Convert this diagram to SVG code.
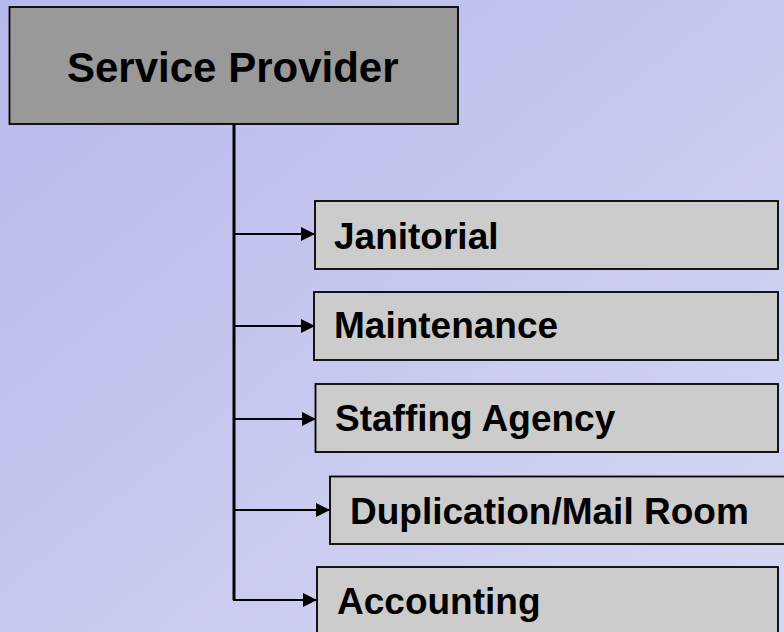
<svg xmlns="http://www.w3.org/2000/svg" width="784" height="632" viewBox="0 0 784 632">
  <defs>
    <linearGradient id="bg" x1="0" y1="0" x2="1" y2="1">
      <stop offset="0" stop-color="#b7b8ec"/>
      <stop offset="1" stop-color="#d6d8f2"/>
    </linearGradient>
    <marker id="arrow" viewBox="0 0 14 14" refX="14" refY="7" markerWidth="14" markerHeight="14" markerUnits="userSpaceOnUse" orient="auto">
      <path d="M0,0 L14,7 L0,14 Z" fill="#000"/>
    </marker>
    <style>
      .box { fill: #cccccc; stroke: #000; stroke-width: 1.8; }
      .root { fill: #999999; stroke: #000; stroke-width: 1.8; }
      .label { font-family: "Liberation Sans", Arial, sans-serif; font-weight: bold; fill: #000; }
      .child { font-size: 37px; }
      .trunk { fill: none; stroke: #000; stroke-width: 3; }
      .branch { fill: none; stroke: #000; stroke-width: 2.2; marker-end: url(#arrow); }
    </style>
  </defs>

  <rect width="784" height="632" fill="url(#bg)"/>

  <!-- connectors: vertical trunk plus one arrow per department -->
  <g id="connectors">
    <path class="trunk" d="M234,124 V600"/>
    <path class="branch" d="M233,234 H315"/>
    <path class="branch" d="M233,326 H315"/>
    <path class="branch" d="M233,419 H316"/>
    <path class="branch" d="M233,510 H330"/>
    <path class="branch" d="M233,600 H317"/>
  </g>

  <g id="service-provider">
    <rect class="root" x="9.5" y="7" width="448.5" height="117"/>
    <text class="label" x="67" y="82" font-size="42">Service Provider</text>
  </g>

  <g id="janitorial">
    <rect class="box" x="315" y="201" width="463" height="68"/>
    <text class="label child" x="334" y="249">Janitorial</text>
  </g>

  <g id="maintenance">
    <rect class="box" x="314" y="292" width="464" height="68"/>
    <text class="label child" x="334" y="338">Maintenance</text>
  </g>

  <g id="staffing-agency">
    <rect class="box" x="315.5" y="384" width="462.5" height="68"/>
    <text class="label child" x="335" y="431">Staffing Agency</text>
  </g>

  <g id="duplication-mail-room">
    <rect class="box" x="330" y="476.5" width="460" height="67.5"/>
    <text class="label child" x="350" y="524">Duplication/Mail Room</text>
  </g>

  <g id="accounting">
    <rect class="box" x="317" y="567" width="461" height="80"/>
    <text class="label child" x="337" y="614">Accounting</text>
  </g>
</svg>
